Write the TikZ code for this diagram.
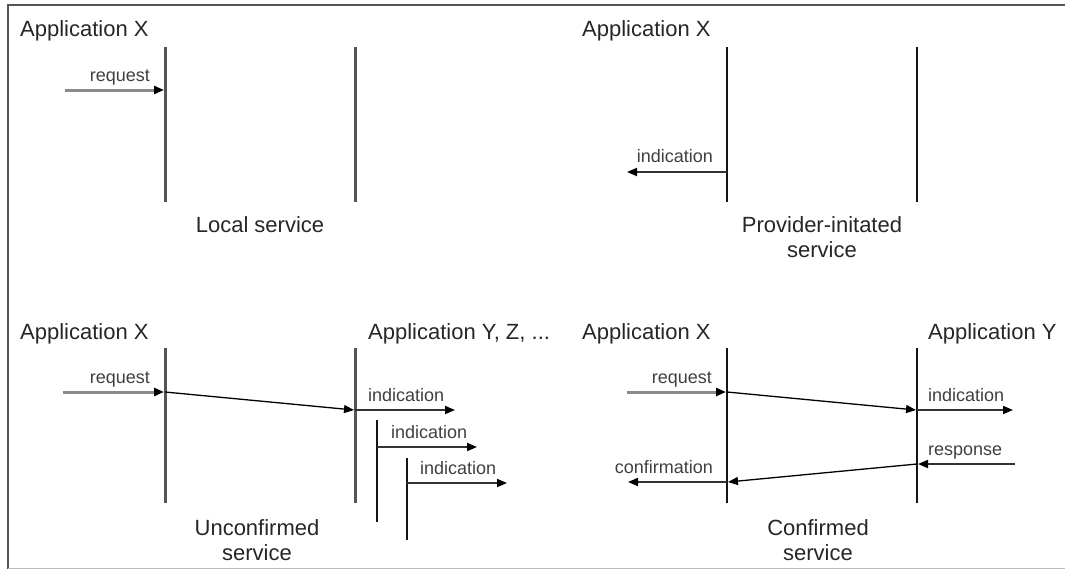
\documentclass[tikz,border=0pt]{standalone}
\usepackage{fontspec}
\setmainfont{Liberation Sans}
\usetikzlibrary{arrows.meta}
\definecolor{lifegray}{HTML}{555555}
\definecolor{lifeblack}{HTML}{151515}
\definecolor{reqgray}{HTML}{8A8A8A}
\definecolor{msggray}{HTML}{333333}
\definecolor{framegray}{HTML}{555555}
\definecolor{framelight}{HTML}{BBBBBB}
\tikzset{
  title/.style={font=\fontsize{22}{25}\selectfont, text=black!85, inner sep=0pt, anchor=base west},
  caption/.style={font=\fontsize{22}{25}\selectfont, text=black!85, inner sep=0pt, align=center, anchor=north},
  lbl/.style={font=\fontsize{18}{20}\selectfont, text=black!75, inner sep=0pt},
  lifeg/.style={draw=lifegray, line width=3pt},
  lifeb/.style={draw=lifeblack, line width=2.6pt},
  tip/.style={-{Triangle[length=10pt,width=8pt,color=black]}},
  reqarrow/.style={tip, draw=reqgray, line width=3pt, shorten >=-1pt},
  msgarrow/.style={tip, draw=msggray, line width=1.8pt},
  diagarrow/.style={tip, draw=black, line width=1.3pt}
}
\begin{document}
\begin{tikzpicture}[x=1pt,y=-1pt]
\useasboundingbox (0,0) rectangle (1065,570);
% frame
\draw[framegray, line width=2pt] (1065,5) -- (8,5) -- (8,569);
\draw[framelight, line width=1.5pt] (8,568.5) -- (1065,568.5);

% ---------- Top-left: Local service ----------
\node[title] (tlA) at (20,36) {Application X};
\coordinate (tl1t) at (165,47); \coordinate (tl1b) at (165,202);
\coordinate (tl2t) at (355,47); \coordinate (tl2b) at (355,202);
\draw[lifeg] (tl1t) -- (tl1b);
\draw[lifeg] (tl2t) -- (tl2b);
\coordinate (tlreqs) at (65,90); \coordinate (tlreqe) at (163,90);
\draw[reqarrow] (tlreqs) -- (tlreqe);
\node[lbl, anchor=base east] (tlreqL) at (150,81) {request};
\node[caption] (tlcap) at (260,216) {Local service};

% ---------- Top-right: Provider-initated service ----------
\node[title] (trA) at (582,36) {Application X};
\coordinate (tr1t) at (727,47); \coordinate (tr1b) at (727,202);
\coordinate (tr2t) at (917,47); \coordinate (tr2b) at (917,202);
\draw[lifeb] (tr1t) -- (tr1b);
\draw[lifeb] (tr2t) -- (tr2b);
\coordinate (trinds) at (727,172); \coordinate (trinde) at (627,172);
\draw[msgarrow] (trinds) -- (trinde);
\node[lbl, anchor=base east] (trindL) at (713,162) {indication};
\node[caption] (trcap) at (822,216) {Provider-initated\\service};

% ---------- Bottom-left: Unconfirmed service ----------
\node[title] (blA) at (20,339) {Application X};
\node[title] (blB) at (368,339) {Application Y, Z, ...};
\coordinate (bl1t) at (165,348); \coordinate (bl1b) at (165,503);
\coordinate (bl2t) at (355,348); \coordinate (bl2b) at (355,503);
\coordinate (bl3t) at (377,420); \coordinate (bl3b) at (377,522);
\coordinate (bl4t) at (407,458); \coordinate (bl4b) at (407,540);
\draw[lifeg] (bl1t) -- (bl1b);
\draw[lifeg] (bl2t) -- (bl2b);
\draw[lifeb, line width=2.2pt] (bl3t) -- (bl3b);
\draw[lifeb, line width=2.2pt] (bl4t) -- (bl4b);
\coordinate (blreqs) at (63,392); \coordinate (blreqe) at (163,392);
\coordinate (bl1m) at (165,392); \coordinate (bl2m) at (354,410);
\draw[reqarrow] (blreqs) -- (blreqe);
\node[lbl, anchor=base east] (blreqL) at (150,383) {request};
\draw[diagarrow] (bl1m) -- (bl2m);
\coordinate (bli1s) at (355,410); \coordinate (bli1e) at (455,410);
\coordinate (bli2s) at (377,447); \coordinate (bli2e) at (477,447);
\coordinate (bli3s) at (407,483); \coordinate (bli3e) at (507,483);
\draw[msgarrow] (bli1s) -- (bli1e);
\draw[msgarrow] (bli2s) -- (bli2e);
\draw[msgarrow] (bli3s) -- (bli3e);
\node[lbl, anchor=base west] (bli1L) at (368,401) {indication};
\node[lbl, anchor=base west] (bli2L) at (391,438) {indication};
\node[lbl, anchor=base west] (bli3L) at (420,474) {indication};
\node[caption] (blcap) at (257,519) {Unconfirmed\\service};

% ---------- Bottom-right: Confirmed service ----------
\node[title] (brA) at (582,339) {Application X};
\node[title] (brB) at (928,339) {Application Y};
\coordinate (br1t) at (727,348); \coordinate (br1b) at (727,503);
\coordinate (br2t) at (917,348); \coordinate (br2b) at (917,503);
\draw[lifeb] (br1t) -- (br1b);
\draw[lifeb] (br2t) -- (br2b);
\coordinate (brreqs) at (627,392); \coordinate (brreqe) at (725,392);
\draw[reqarrow] (brreqs) -- (brreqe);
\node[lbl, anchor=base east] (brreqL) at (712,383) {request};
\coordinate (br1m) at (727,392); \coordinate (br2m) at (916,410);
\draw[diagarrow] (br1m) -- (br2m);
\coordinate (brinds) at (917,410); \coordinate (brinde) at (1013,410);
\draw[msgarrow] (brinds) -- (brinde);
\node[lbl, anchor=base west] (brindL) at (928,401) {indication};
\coordinate (brress) at (1015,464); \coordinate (brrese) at (918,464);
\draw[msgarrow] (brress) -- (brrese);
\node[lbl, anchor=base west] (brresL) at (928,455) {response};
\coordinate (br2r) at (917,464); \coordinate (br1r) at (728,482);
\draw[diagarrow] (br2r) -- (br1r);
\coordinate (brconfs) at (727,482); \coordinate (brconfe) at (628,482);
\draw[msgarrow] (brconfs) -- (brconfe);
\node[lbl, anchor=base east] (brconfL) at (713,473) {confirmation};
\node[caption] (brcap) at (818,519) {Confirmed\\service};
\end{tikzpicture}
\end{document}
